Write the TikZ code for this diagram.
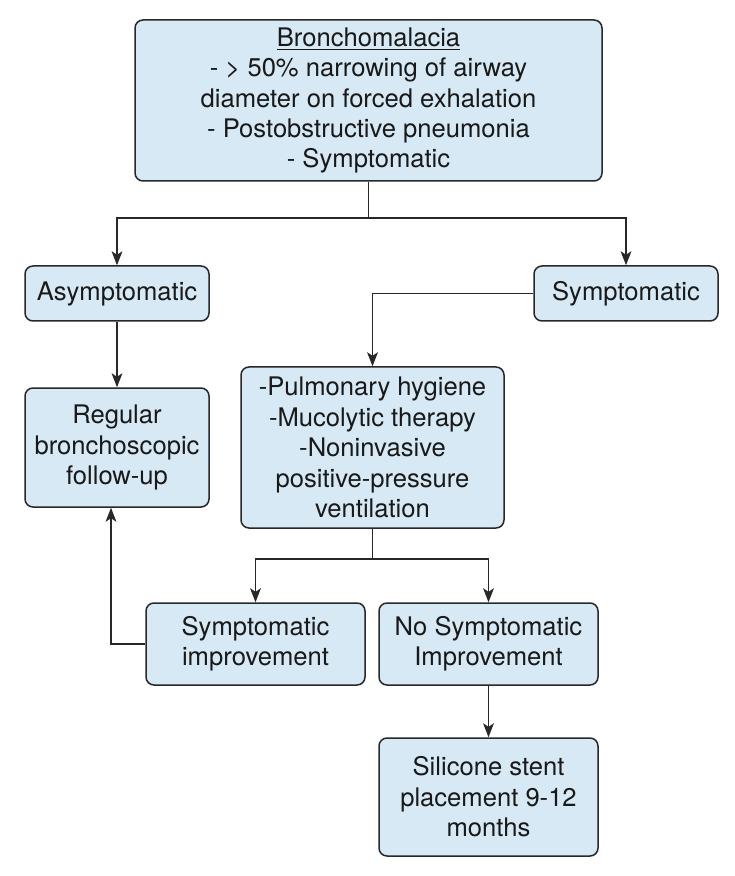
\documentclass[tikz,border=0pt]{standalone}
\usepackage{fontspec}
\setmainfont{TeX Gyre Heros}
\usetikzlibrary{arrows.meta}
\usetikzlibrary{positioning}
\definecolor{boxfill}{RGB}{214,233,244}
\definecolor{boxline}{RGB}{40,40,40}

\begin{document}
\begin{tikzpicture}[x=0.5pt, y=-0.5pt,
    font=\fontsize{12.8}{15.2}\selectfont,
    box/.style={draw=boxline, fill=boxfill, line width=0.75pt, rounded corners=4pt,
                align=center, inner sep=0pt, text=black!90},
    arr/.style={draw=boxline, line width=0.7pt, -{Stealth[length=7pt,width=5.4pt,inset=1.8pt]}},
    link/.style={draw=boxline, line width=0.7pt}]

\useasboundingbox (0,0) rectangle (734,876);

% Boxes
\node[box, minimum width=233.5pt, minimum height=80.5pt] (top) at (368.5,100.5)
    {\underline{Bronchomalacia}\\- > 50\% narrowing of airway\\diameter on forced exhalation\\- Postobstructive pneumonia\\- Symptomatic};

\node[box, minimum width=92pt, minimum height=27.5pt] (asym) at (117,293.5) {Asymptomatic};
\node[box, minimum width=92pt, minimum height=27.5pt] (symp) at (626,293.5) {Symptomatic};

\node[box, minimum width=92pt, minimum height=59.5pt] (regular) at (117,447.5)
    {Regular\\bronchoscopic\\follow-up};
\node[box, minimum width=131.5pt, minimum height=80.5pt] (therapy) at (372.5,447.5)
    {-Pulmonary hygiene\\-Mucolytic therapy\\-Noninvasive\\positive-pressure\\ventilation};

\node[box, minimum width=109.5pt, minimum height=41pt] (improve) at (255.5,644)
    {Symptomatic\\improvement};
\node[box, minimum width=109.5pt, minimum height=41pt] (noimprove) at (488.5,644)
    {No Symptomatic\\Improvement};

\node[box, minimum width=109.5pt, minimum height=59pt] (stent) at (488.5,797)
    {Silicone stent\\placement 9-12\\months};

% Split points
\coordinate (split1) at (368.5,218);
\coordinate (split2) at (372.5,559);
\coordinate (back) at ([xshift=-3pt]regular.south);

% Connectors
\draw[link] (top.south) -- (split1);
\draw[arr] (split1) -| (asym.north);
\draw[arr] (split1) -| (symp.north);
\draw[arr] (asym.south) -- (regular.north);
\draw[arr] (symp.west) -| (therapy.north);
\draw[link] (therapy.south) -- (split2);
\draw[arr] (split2) -| (improve.north);
\draw[arr] (split2) -| (noimprove.north);
\draw[arr] (improve.west) -| (back);
\draw[arr] (noimprove.south) -- (stent.north);

\end{tikzpicture}
\end{document}
